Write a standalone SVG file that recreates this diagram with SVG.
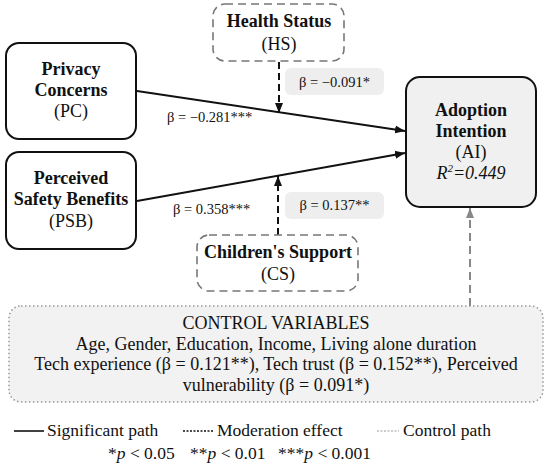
<svg xmlns="http://www.w3.org/2000/svg" width="550" height="466" viewBox="0 0 550 466">
<defs>
<style>
text{font-family:"Liberation Serif","Times New Roman",serif;fill:#111}
.b{font-weight:bold;font-size:18px}
.r{font-size:18px}
.s{font-size:14.5px}
.lg{font-size:17.5px}
.node{fill:#fff;stroke:#111;stroke-width:2}
.mod{fill:#fff;stroke:#777;stroke-width:1.6;stroke-dasharray:8 5}
.lab{fill:#eeeeee;stroke:none}
.path{stroke:#111;stroke-width:2;fill:none}
.dash{stroke:#111;stroke-width:2;fill:none;stroke-dasharray:7 4}
.ctl{stroke:#888;stroke-width:2;fill:none;stroke-dasharray:8 5}
</style>
<marker id="ah" viewBox="0 0 10 10" refX="10" refY="5" markerWidth="10" markerHeight="10" markerUnits="userSpaceOnUse" orient="auto">
<path d="M0,1 L10,5 L0,9 Z" fill="#111"/>
</marker>
<marker id="ahg" viewBox="0 0 10 10" refX="10" refY="5" markerWidth="10" markerHeight="10" markerUnits="userSpaceOnUse" orient="auto">
<path d="M0,1 L10,5 L0,9 Z" fill="#888"/>
</marker>
</defs>

<g id="connectors">
<line class="path" x1="137" y1="91" x2="405" y2="131" marker-end="url(#ah)"/>
<line class="path" x1="137" y1="201" x2="405" y2="153" marker-end="url(#ah)"/>
<line class="dash" x1="279" y1="62" x2="279" y2="113" marker-end="url(#ah)"/>
<line class="dash" x1="278" y1="235" x2="278" y2="176" marker-end="url(#ah)"/>
<line class="ctl" x1="470" y1="306" x2="470" y2="208" marker-end="url(#ahg)"/>
<text class="s" x="167" y="122">β = −0.281***</text>
<text class="s" x="173" y="214">β = 0.358***</text>
<rect class="lab" x="285" y="68" width="99" height="27" rx="6"/>
<text class="s" x="334.5" y="87" text-anchor="middle">β = −0.091*</text>
<rect class="lab" x="285" y="192" width="99" height="27" rx="6"/>
<text class="s" x="334.5" y="210" text-anchor="middle">β = 0.137**</text>
</g>

<g id="PC">
<rect class="node" x="6" y="43" width="130" height="96" rx="13"/>
<text class="b" x="71" y="75" text-anchor="middle">Privacy</text>
<text class="b" x="71" y="96" text-anchor="middle">Concerns</text>
<text class="r" x="71" y="117" text-anchor="middle">(PC)</text>
</g>

<g id="PSB">
<rect class="node" x="6" y="152" width="130" height="97" rx="13"/>
<text class="b" x="71" y="184" text-anchor="middle">Perceived</text>
<text class="b" x="71" y="205" text-anchor="middle">Safety Benefits</text>
<text class="r" x="71" y="227" text-anchor="middle">(PSB)</text>
</g>

<g id="HS">
<rect class="mod" x="213" y="4" width="131" height="57" rx="12"/>
<text class="b" x="279" y="27" text-anchor="middle">Health Status</text>
<text class="r" x="279" y="50" text-anchor="middle">(HS)</text>
</g>

<g id="CS">
<rect class="mod" x="197" y="235" width="161" height="56" rx="12"/>
<text class="b" x="278" y="258" text-anchor="middle">Children's Support</text>
<text class="r" x="278" y="280" text-anchor="middle">(CS)</text>
</g>

<g id="AI">
<rect x="406" y="77" width="130" height="130" rx="14" fill="#f0f0f0" stroke="#111" stroke-width="2"/>
<text class="b" x="471" y="116" text-anchor="middle">Adoption</text>
<text class="b" x="471" y="137" text-anchor="middle">Intention</text>
<text class="r" x="471" y="158" text-anchor="middle">(AI)</text>
<text class="r" x="471" y="179" text-anchor="middle" font-style="italic">R<tspan font-size="11" dy="-7">2</tspan><tspan dy="7">=0.449</tspan></text>
</g>

<g id="CV">
<rect x="9" y="306" width="534" height="96" rx="12" fill="#f2f2f2" stroke="#999" stroke-width="1.5" stroke-dasharray="1.5 2.5"/>
<text class="r" x="276" y="329" text-anchor="middle">CONTROL VARIABLES</text>
<text class="r" x="276" y="350" text-anchor="middle">Age, Gender, Education, Income, Living alone duration</text>
<text class="r" x="276" y="370" text-anchor="middle">Tech experience (β = 0.121**), Tech trust (β = 0.152**), Perceived</text>
<text class="r" x="276" y="391" text-anchor="middle">vulnerability (β = 0.091*)</text>
</g>

<g id="legend">
<line x1="14" y1="431" x2="44" y2="431" stroke="#111" stroke-width="1.6"/>
<text class="lg" x="47" y="436">Significant path</text>
<line x1="183" y1="431" x2="213" y2="431" stroke="#111" stroke-width="1.6" stroke-dasharray="2 1.5"/>
<text class="lg" x="217" y="436">Moderation effect</text>
<line x1="377" y1="431" x2="399" y2="431" stroke="#999" stroke-width="1.2" stroke-dasharray="2 1.5"/>
<text class="lg" x="403" y="436">Control path</text>
<text class="lg" x="108" y="459">*<tspan font-style="italic">p</tspan> &lt; 0.05</text>
<text class="lg" x="190" y="459">**<tspan font-style="italic">p</tspan> &lt; 0.01</text>
<text class="lg" x="278" y="459">***<tspan font-style="italic">p</tspan> &lt; 0.001</text>
</g>
</svg>
